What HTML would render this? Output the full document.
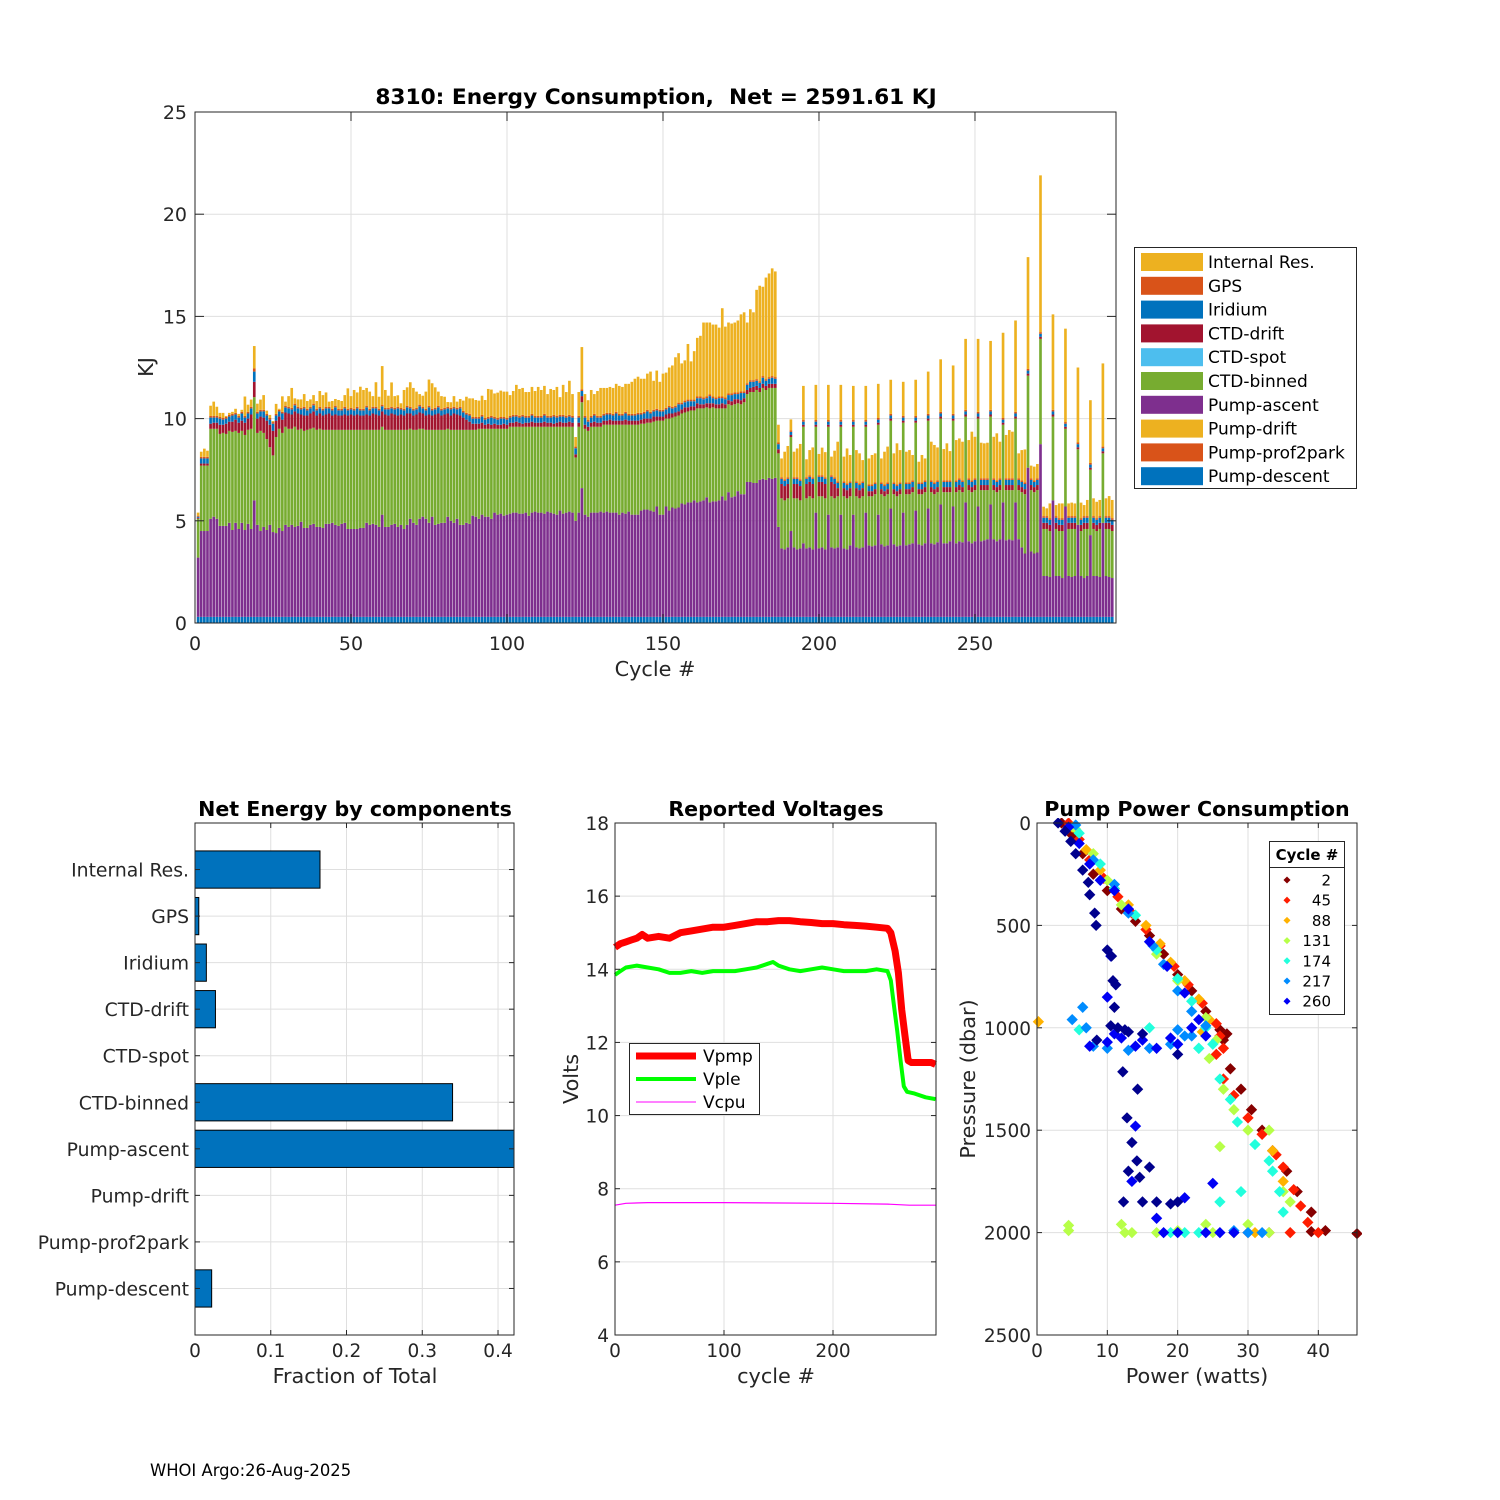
<!DOCTYPE html>
<html><head><meta charset="utf-8"><title>8310 Energy</title>
<style>
html,body{margin:0;padding:0;background:#fff;}
svg{display:block;font-family:"DejaVu Sans","Liberation Sans",sans-serif;}
</style></head>
<body>
<svg id="fig" width="1500" height="1500" viewBox="0 0 1500 1500" xmlns="http://www.w3.org/2000/svg">
<rect width="1500" height="1500" fill="#fff"/>
<g id="main"></g>
<g id="comp"></g>
<g id="volt"></g>
<g id="pump"></g>
<text x="150" y="1476" font-size="16.4">WHOI Argo:26-Aug-2025</text>
</svg>
<script>
// ===== main stacked bar data (cycles 1..294) =====
const pumpDescent=[
.3,.3,.3,.3,.3,.3,.3,.3,.3,.3,.3,.3,.3,.3,.3,.3,.3,.3,.3,.3,.3,.3,.3,.3,.3,.3,.3,.3,.3,.3,
.3,.3,.3,.3,.3,.3,.3,.3,.3,.3,.3,.3,.3,.3,.3,.3,.3,.3,.3,.3,.3,.3,.3,.3,.3,.3,.3,.3,.3,.3,
.3,.3,.3,.3,.3,.3,.3,.3,.3,.3,.3,.3,.3,.3,.3,.3,.3,.3,.3,.3,.3,.3,.3,.3,.3,.3,.3,.3,.3,.3,
.3,.3,.3,.3,.3,.3,.3,.3,.3,.3,.3,.3,.3,.3,.3,.3,.3,.3,.3,.3,.3,.3,.3,.3,.3,.3,.3,.3,.3,.3,
.3,.3,.3,.3,.3,.3,.3,.3,.3,.3,.3,.3,.3,.3,.3,.3,.3,.3,.3,.3,.3,.3,.3,.3,.3,.3,.3,.3,.3,.3,
.3,.3,.3,.3,.3,.3,.3,.3,.3,.3,.3,.3,.3,.3,.3,.3,.3,.3,.3,.3,.3,.3,.3,.3,.3,.3,.3,.3,.3,.3,
.3,.3,.3,.3,.3,.3,.3,.3,.3,.3,.3,.3,.3,.3,.3,.3,.3,.3,.3,.3,.3,.3,.3,.3,.3,.3,.3,.3,.3,.3,
.3,.3,.3,.3,.3,.3,.3,.3,.3,.3,.3,.3,.3,.3,.3,.3,.3,.3,.3,.3,.3,.3,.3,.3,.3,.3,.3,.3,.3,.3,
.3,.3,.3,.3,.3,.3,.3,.3,.3,.3,.3,.3,.3,.3,.3,.3,.3,.3,.3,.3,.3,.3,.3,.3,.3,.3,.3,.3,.3,.3,
.3,.3,.3,.3,.3,.3,.3,.3,.3,.3,.3,.3,.3,.3,.3,.3,.3,.3,.3,.3,.3,.3,.3,.3];
const pumpAscent=[
2.9,4.2,4.2,4.2,4.8,4.9,4.8,4.45,4.45,4.45,
4.6,4.25,4.6,4.3,4.6,4.25,4.55,4.3,5.7,4.5,
4.2,4.4,4.25,4.5,4.15,4.1,4.35,4.2,4.5,4.4,
4.5,4.4,4.45,4.65,4.35,4.35,4.5,4.55,4.4,4.4,
4.35,4.55,4.55,4.6,4.5,4.45,4.55,4.6,4.3,4.3,
4.3,4.3,4.35,4.35,4.6,4.5,4.55,4.5,4.4,5.0,
4.4,4.4,4.5,4.55,4.4,4.5,4.3,4.5,4.8,4.6,
4.5,4.8,4.9,4.8,4.6,4.9,4.5,4.55,4.6,4.6,
4.9,4.7,4.6,4.8,4.5,4.5,4.6,4.55,4.95,4.9,
4.8,5.0,4.9,4.9,4.8,5.1,5.0,5.05,4.95,5.0,
5.05,5.1,5.1,5.05,5.05,5.1,4.95,5.1,5.15,5.1,
5.1,5.05,5.15,5.1,5.05,5.0,5.2,5.05,5.1,5.15,
5.1,4.7,5.1,6.3,5.0,4.9,5.1,5.1,5.1,5.15,
5.1,5.15,5.1,5.1,5.1,5.0,5.1,5.05,5.15,5.0,
5.0,5.0,5.2,5.25,5.25,5.2,5.15,5.4,5.0,5.0,
5.4,5.2,5.35,5.3,5.35,5.55,5.5,5.6,5.6,5.7,
5.6,5.65,5.7,5.85,5.6,5.65,5.65,5.7,5.9,5.7,
6.1,5.85,5.9,6.15,6.0,6.0,6.6,6.6,6.55,6.55,
6.7,6.75,6.7,6.8,6.75,6.8,4.4,3.35,3.3,3.4,
4.2,3.4,3.3,3.35,3.6,3.35,3.4,3.3,5.1,3.35,
3.4,3.3,5.0,3.4,3.35,3.4,5.0,3.35,3.3,3.5,
5.0,3.4,3.35,3.4,5.1,3.5,3.45,3.5,5.0,3.55,
3.45,3.5,5.3,3.55,3.45,3.5,5.1,3.5,3.55,3.6,
5.2,3.55,3.5,3.6,5.3,3.6,3.55,3.65,5.5,3.6,
3.6,3.7,5.4,3.6,3.7,3.65,5.6,3.7,3.6,3.7,
5.4,3.7,3.75,3.8,5.5,3.8,3.7,3.8,5.6,3.75,
3.8,3.75,5.6,3.8,3.4,3.1,7.3,3.2,3.1,3.15,
8.45,2.0,2.0,1.95,5.7,2.0,2.0,1.9,5.4,2.0,
1.95,2.0,4.5,2.0,1.9,2.0,4.0,2.0,2.0,1.95,
4.6,2.0,1.95,1.9];
const ctdBinned=[
1.9,3.2,3.2,3.2,4.4,4.3,4.4,4.5,4.55,4.5,
4.5,4.8,4.5,4.7,4.5,4.65,4.6,4.9,5.05,4.5,
4.9,4.6,4.45,3.8,3.75,4.7,4.85,4.8,4.8,4.8,
4.7,4.9,4.7,4.55,4.75,4.8,4.7,4.7,4.75,4.8,
4.8,4.6,4.6,4.55,4.65,4.7,4.6,4.55,4.85,4.85,
4.85,4.85,4.8,4.8,4.55,4.65,4.6,4.65,4.75,4.3,
4.75,4.75,4.65,4.6,4.75,4.65,4.85,4.65,4.4,4.55,
4.65,4.4,4.3,4.35,4.55,4.25,4.65,4.6,4.55,4.55,
4.3,4.45,4.55,4.35,4.65,4.65,4.55,4.6,4.2,4.25,
4.4,4.2,4.3,4.3,4.4,4.1,4.2,4.15,4.25,4.2,
4.25,4.2,4.2,4.25,4.25,4.2,4.35,4.2,4.15,4.2,
4.2,4.25,4.15,4.2,4.25,4.3,4.1,4.25,4.2,4.15,
4.2,3.1,4.2,4.2,4.2,4.2,4.2,4.2,4.2,4.15,
4.3,4.25,4.3,4.3,4.3,4.4,4.3,4.35,4.25,4.4,
4.4,4.4,4.25,4.2,4.25,4.3,4.4,4.2,4.6,4.6,
4.3,4.5,4.4,4.5,4.5,4.4,4.5,4.45,4.5,4.4,
4.6,4.55,4.5,4.4,4.6,4.6,4.55,4.5,4.3,4.5,
4.3,4.5,4.5,4.3,4.4,4.5,4.3,4.4,4.45,4.55,
4.3,4.45,4.4,4.4,4.45,4.4,3.6,2.45,2.4,2.4,
4.6,2.4,2.5,2.35,5.7,2.45,2.5,2.5,4.2,2.55,
2.5,2.5,4.3,2.5,2.45,2.5,4.3,2.55,2.5,2.4,
4.3,2.5,2.45,2.5,4.2,2.4,2.45,2.5,4.4,2.45,
2.45,2.5,4.3,2.45,2.45,2.5,4.4,2.5,2.45,2.5,
4.3,2.45,2.5,2.5,4.3,2.5,2.45,2.45,4.2,2.5,
2.5,2.4,4.2,2.5,2.5,2.45,4.2,2.5,2.5,2.5,
4.3,2.5,2.45,2.4,4.3,2.4,2.4,2.4,3.8,2.45,
2.4,2.45,4.1,2.4,2.7,2.9,4.5,3.0,3.0,3.05,
5.15,2.3,2.3,2.25,4.1,2.3,2.2,2.3,3.8,2.3,
2.35,2.3,3.7,2.2,2.4,2.3,3.2,2.3,2.2,2.35,
3.4,2.3,2.35,2.3];
const ctdDrift=[
.05,.1,.1,.1,.25,.3,.3,.45,.4,.5,
.45,.5,.55,.5,.5,.6,.55,.7,.75,.7,
.7,.75,.9,1.1,1.2,.8,.6,.65,.7,.75,
.7,.75,.8,.7,.75,.7,.75,.8,.7,.75,
.7,.75,.8,.7,.75,.7,.7,.75,.7,.75,
.7,.75,.7,.7,.75,.7,.8,.75,.7,.75,
.75,.7,.8,.75,.7,.75,.7,.8,.75,.7,
.75,.8,.75,.7,.75,.7,.75,.8,.7,.75,
.75,.7,.8,.75,.7,.6,.5,.4,.3,.3,
.25,.3,.2,.25,.2,.25,.2,.2,.25,.2,
.2,.2,.25,.2,.15,.2,.2,.25,.2,.2,
.2,.25,.2,.2,.15,.2,.25,.2,.2,.25,
.2,.15,.2,.3,.2,.2,.2,.25,.2,.2,
.2,.2,.25,.2,.2,.2,.2,.25,.2,.2,
.2,.2,.2,.25,.2,.2,.25,.2,.2,.2,
.2,.25,.2,.2,.2,.2,.25,.2,.2,.2,
.25,.2,.2,.2,.25,.2,.2,.2,.25,.2,
.2,.2,.25,.2,.2,.2,.2,.2,.25,.2,
.2,.2,.2,.2,.2,.2,.2,.7,.7,.7,
.1,.7,.7,.7,.1,.7,.7,.7,.1,.7,
.7,.7,.1,.7,.7,.4,.1,.4,.4,.4,
.1,.4,.4,.4,.1,.25,.25,.25,.1,.25,
.25,.25,.1,.25,.25,.25,.1,.25,.25,.25,
.1,.25,.25,.25,.1,.25,.25,.25,.1,.25,
.25,.25,.1,.25,.25,.25,.1,.25,.25,.25,
.1,.25,.25,.25,.1,.25,.25,.25,.1,.25,
.25,.25,.1,.25,.25,.25,.1,.25,.25,.25,
.1,.3,.3,.3,.1,.3,.3,.3,.1,.3,
.3,.3,.1,.3,.3,.3,.1,.3,.3,.3,
.1,.3,.3,.3];
const iridium=[
.05,.25,.25,.25,.3,.25,.25,.3,.25,.25,
.25,.3,.25,.25,.35,.25,.25,.3,.5,.25,
.25,.3,.25,.25,.35,.25,.25,.3,.25,.25,
.25,.3,.25,.25,.35,.25,.25,.3,.25,.25,
.25,.3,.25,.25,.35,.25,.25,.3,.25,.25,
.25,.3,.25,.25,.35,.25,.25,.3,.25,.25,
.25,.3,.25,.25,.35,.25,.25,.3,.25,.25,
.25,.3,.25,.25,.35,.25,.25,.3,.25,.25,
.25,.3,.25,.25,.35,.25,.25,.3,.25,.25,
.25,.3,.25,.25,.35,.25,.25,.3,.25,.25,
.25,.3,.25,.25,.35,.25,.25,.3,.25,.25,
.25,.3,.25,.25,.35,.25,.25,.3,.25,.25,
.25,.3,.25,.25,.35,.25,.25,.3,.25,.25,
.25,.3,.25,.25,.35,.25,.25,.3,.25,.25,
.25,.3,.25,.25,.35,.25,.25,.3,.25,.25,
.25,.3,.25,.25,.35,.25,.25,.3,.25,.25,
.25,.3,.25,.25,.35,.25,.25,.3,.25,.25,
.25,.3,.25,.25,.35,.25,.25,.3,.25,.25,
.25,.3,.25,.25,.3,.25,.25,.25,.25,.25,
.15,.25,.25,.25,.15,.25,.25,.25,.15,.25,
.25,.25,.15,.25,.25,.25,.15,.25,.25,.25,
.15,.25,.25,.25,.15,.25,.25,.25,.15,.25,
.25,.25,.15,.25,.25,.25,.15,.25,.25,.25,
.15,.25,.25,.25,.15,.25,.25,.25,.15,.25,
.25,.25,.15,.25,.25,.25,.15,.25,.25,.25,
.15,.25,.25,.25,.15,.25,.25,.25,.15,.25,
.25,.25,.15,.25,.25,.25,.15,.25,.25,.25,
.15,.25,.25,.25,.15,.25,.25,.25,.15,.25,
.25,.25,.15,.25,.25,.25,.15,.25,.25,.25,
.15,.25,.25,.25];
const gps=[
.05,.08,.08,.08,.08,.08,.08,.08,.08,.08,.08,.08,.08,.08,.08,.08,.08,.08,.15,.08,.08,.08,.08,.08,.08,.08,.08,.08,.08,.08,
.08,.08,.08,.08,.08,.08,.08,.08,.08,.08,.08,.08,.08,.08,.08,.08,.08,.08,.08,.08,.08,.08,.08,.08,.08,.08,.08,.08,.08,.08,
.08,.08,.08,.08,.08,.08,.08,.08,.08,.08,.08,.08,.08,.08,.08,.08,.08,.08,.08,.08,.08,.08,.08,.08,.08,.08,.08,.08,.08,.08,
.08,.08,.08,.08,.08,.08,.08,.08,.08,.08,.08,.08,.08,.08,.08,.08,.08,.08,.08,.08,.08,.08,.08,.08,.08,.08,.08,.08,.08,.08,
.08,.08,.08,.08,.08,.08,.08,.08,.08,.08,.08,.08,.08,.08,.08,.08,.08,.08,.08,.08,.08,.08,.08,.08,.08,.08,.08,.08,.08,.08,
.08,.08,.08,.08,.08,.08,.08,.08,.08,.08,.08,.08,.08,.08,.08,.08,.08,.08,.08,.08,.08,.08,.08,.08,.08,.08,.08,.08,.08,.08,
.08,.08,.08,.08,.08,.08,.08,.08,.08,.08,.08,.08,.08,.08,.08,.08,.08,.08,.08,.08,.08,.08,.08,.08,.08,.08,.08,.08,.08,.08,
.08,.08,.08,.08,.08,.08,.08,.08,.08,.08,.08,.08,.08,.08,.08,.08,.08,.08,.08,.08,.08,.08,.08,.08,.08,.08,.08,.08,.08,.08,
.08,.08,.08,.08,.08,.08,.08,.08,.08,.08,.08,.08,.08,.08,.08,.08,.08,.08,.08,.08,.08,.08,.08,.08,.08,.08,.08,.08,.08,.08,
.08,.08,.08,.08,.08,.08,.08,.08,.08,.08,.08,.08,.08,.08,.08,.08,.08,.08,.08,.08,.08,.08,.08,.08];
const internalRes=[
0.15,0.25,0.4,0.3,0.5,0.7,0.45,0.2,0.25,0.05,
0.1,0.1,0.2,0.1,0.1,0.95,0.35,0.35,1.1,0.4,
0.5,0.72,0.16,0.15,0.05,0.49,0.05,0.76,0.2,0.52,
0.97,0.26,0.36,0.41,0.62,0.38,0.36,0.42,0.38,0.77,
0.67,0.7,0.25,0.38,0.33,0.43,0.38,0.57,1.0,0.57,
0.92,0.7,1.08,0.92,0.87,0.84,0.52,1.2,0.59,1.89,
0.87,0.59,1.19,0.57,0.56,0.22,0.92,0.9,1.2,1.02,
0.79,0.52,0.54,0.84,1.28,1.25,1.0,0.69,0.62,0.54,
0.23,0.27,0.52,0.3,0.38,0.5,0.79,0.76,0.91,0.83,
0.8,0.94,0.88,1.37,1.29,1.15,1.24,1.29,1.24,1.29,
1.02,1.17,1.47,1.32,1.32,1.17,1.17,1.32,1.22,1.42,
1.27,1.37,1.07,1.32,1.22,1.42,0.87,1.47,1.17,1.67,
1.07,0.47,1.17,2.07,1.07,0.97,1.27,0.97,1.22,1.37,
1.27,1.22,1.27,1.27,1.37,1.37,1.32,1.37,1.47,1.57,
1.72,1.77,1.67,1.62,1.77,1.97,1.42,1.87,1.37,1.77,
1.72,1.87,2.02,2.37,2.42,1.92,1.97,2.72,1.87,2.37,
2.87,2.97,3.67,3.62,3.52,3.52,3.57,3.37,4.32,3.47,
3.47,3.42,3.42,3.52,3.77,3.87,2.97,3.47,3.32,4.37,
4.67,4.37,4.97,5.07,5.27,5.17,0.87,0.92,1.35,1.53,
0.53,1.25,1.41,1.73,1.67,0.88,1.23,1.46,1.72,1.04,
1.35,1.23,1.72,0.91,1.3,1.94,1.72,1.21,1.71,1.29,
1.67,1.53,1.47,1.04,1.67,1.27,1.44,1.42,1.67,1.17,
1.6,1.75,1.67,1.42,2.01,1.58,1.67,1.5,1.58,1.24,
1.77,1.01,1.34,1.07,2.07,1.89,1.83,1.61,2.57,1.53,
1.81,1.43,2.37,1.97,1.95,1.89,3.47,1.87,2.38,2.03,
3.57,1.74,1.71,1.74,3.37,2.03,2.3,1.79,4.17,2.12,
2.36,2.28,4.47,1.22,1.48,1.61,5.47,0.62,0.67,0.7,
7.67,0.46,0.38,0.72,4.67,0.54,0.72,0.72,4.57,0.62,
0.66,0.62,3.67,0.76,0.54,0.79,3.07,0.87,0.8,0.79,
4.07,0.87,0.98,0.89];
const firstCycle=1;
const mainYTicks=[0,5,10,15,20,25];
const mainXTicks=[0,50,100,150,200,250];
const legendNames=["Internal Res.","GPS","Iridium","CTD-drift","CTD-spot","CTD-binned","Pump-ascent","Pump-drift","Pump-prof2park","Pump-descent"];

// ===== component fractions =====
const compNames=["Internal Res.","GPS","Iridium","CTD-drift","CTD-spot","CTD-binned","Pump-ascent","Pump-drift","Pump-prof2park","Pump-descent"];
const compFrac=[0.165,0.005,0.015,0.027,0,0.34,0.43,0,0,0.022];
const compXTicks=[0,0.1,0.2,0.3,0.4];

// ===== voltages =====
const vpmpCycle=[0,5,10,15,20,25,30,40,50,60,70,80,90,100,110,120,130,140,150,160,170,180,190,200,210,220,230,240,250,253,257,260,263,266,269,272,280,290,294];
const vpmpVal=[14.6,14.7,14.75,14.8,14.85,14.95,14.85,14.9,14.85,15.0,15.05,15.1,15.15,15.15,15.2,15.25,15.3,15.3,15.33,15.33,15.3,15.28,15.25,15.25,15.22,15.2,15.18,15.15,15.12,15.0,14.5,13.9,12.9,12.2,11.5,11.45,11.45,11.45,11.4];
const vpleCycle=[0,5,10,20,30,40,50,60,70,80,90,100,110,120,130,140,145,150,160,170,180,190,200,210,220,230,240,250,253,256,259,262,265,268,275,285,294];
const vpleVal=[13.85,13.95,14.05,14.1,14.05,14.0,13.9,13.9,13.95,13.9,13.95,13.95,13.95,14.0,14.05,14.15,14.2,14.1,14.0,13.95,14.0,14.05,14.0,13.95,13.95,13.95,14.0,13.95,13.7,13.0,12.3,11.5,10.8,10.65,10.6,10.5,10.45];
const vcpuCycle=[0,10,30,100,200,250,270,294];
const vcpuVal=[7.55,7.6,7.62,7.62,7.6,7.58,7.55,7.55];
const voltYTicks=[4,6,8,10,12,14,16,18];
const voltXTicks=[0,100,200];

// ===== pump power scatter =====
const pumpCycle=[
2,2,2,2,2,2,2,2,2,2,2,2,2,2,2,2,2,2,2,2,2,2,2,2,2,2,
45,45,45,45,45,45,45,45,45,45,45,45,45,45,45,45,45,45,45,45,45,45,45,45,45,45,45,45,
88,88,88,88,88,88,88,88,88,88,88,88,88,88,88,88,88,
131,131,131,131,131,131,131,131,131,131,131,131,131,131,131,131,131,131,131,131,131,131,131,131,131,131,131,131,
174,174,174,174,174,174,174,174,174,174,174,174,174,174,174,174,174,174,174,174,174,174,174,174,174,174,
217,217,217,217,217,217,217,217,217,217,217,217,217,217,217,217,217,217,217,217,217,217,217,
260,260,260,260,260,260,260,260,260,260,260,260,260,260,260,260,260,260,260,260,260,260,260,260,260,260,260,260,260,260,260,260,260,
290,290,290,290,290,290,290,290,290,290,290,290,290,290,290,290,290,290,290,290,290,290,290,290,290,290,290,290,290,290,290,290,290,290];
const pumpPower=[
3.5,5,6.5,8,10,12,14,16,18,20,22,24,26,27,26.5,27.5,29,30.5,32,33.5,35.5,37,39,41,39,45.5,
4.5,6,7.5,9.5,11.5,13.5,15.5,17.5,19.5,21.5,23.5,25.5,26,26.5,25.5,26.5,28,30,32,34,35,36.5,37.5,38.5,36,33,30,40,
5,7,9,11,13,15.5,17.5,19,21,23,24.5,23.5,0.2,33.5,35,31,28,
5.5,8,10,12,17,20,24,25.5,24.5,26.5,28,30,33,35,36,4.5,4.5,12,12.5,13.5,17,20,24,25,28,30,33,26,
6,9,11,14,17,20,22,24,25,23,26,27.5,28.5,31,33,33.5,34.5,35,21,23,19,29,26,23,16,6,
5.5,8,11,13,16.5,18,20,22,24,21,19,16,13,10,8,5,6.5,7,20,22,28,30,32,
4.5,6,7.5,9,11,13,16,18.5,21,23,22,19,15,12,10,7.5,11,14,17,20,24,17,18,20,24,26,28,13.5,21,25,14,10,10.5,
3,4,4.8,5.5,6.5,7.3,7.5,8.2,8.4,10,10.6,10.8,11.2,11,10.5,11.5,12.5,13,12.2,12.8,13.5,14.2,14.6,15,12.3,13,14.3,16,17,19,20,8.5,15,20];
const pumpPressure=[
0,60,150,250,330,420,480,550,640,740,820,920,1010,1030,1060,1200,1300,1400,1500,1600,1700,1800,1900,1990,1995,2005,
0,80,180,270,360,440,520,600,700,790,880,980,1040,1100,1130,1250,1330,1440,1520,1620,1680,1790,1870,1950,2000,2000,2000,2000,
20,130,230,320,400,500,590,680,770,860,960,1020,970,1600,1750,2000,2000,
30,150,280,400,640,770,950,1060,1150,1300,1400,1500,1500,1800,1850,1965,1990,1960,2000,2000,2000,1990,1960,2000,2000,1960,2000,1580,
50,200,320,450,620,760,870,1000,1080,1100,1250,1350,1460,1570,1650,1700,1800,1900,2000,2000,2000,1800,1850,1100,1000,1010,
10,180,300,440,600,690,820,920,990,1040,1080,1100,1110,1100,1090,960,900,1000,1010,1040,1990,2000,2000,
20,100,200,280,330,420,580,700,830,960,1000,1050,1060,1050,1070,1090,1030,1090,1100,1080,1040,1930,2000,2000,2000,2000,2000,1750,1830,1760,1480,850,650,
0,40,90,150,230,290,350,440,500,620,650,770,790,900,990,1000,1010,1020,1215,1440,1560,1650,1730,1850,1850,1700,1300,1680,1850,1860,1850,1060,1030,1130];
const pumpXTicks=[0,10,20,30,40];
const pumpYTicks=[0,500,1000,1500,2000,2500];
const pumpLegendCycles=[2,45,88,131,174,217,260];
const maxCycle=294;

// ===== helpers =====
const NS="http://www.w3.org/2000/svg";
function mk(parent,tag,attrs,text){const e=document.createElementNS(NS,tag);for(const k in attrs)e.setAttribute(k,attrs[k]);if(text!==undefined)e.textContent=text;parent.appendChild(e);return e;}
const GRID="#dfdfdf",AX="#262626";
function fmt(v){return String(v);}

// ===== MAIN CHART =====
(function(){
  const g=document.getElementById('main');
  const L=195,R=1116,T=112,B=623,XMAX=295.2,YMAX=25;
  const xS=c=>L+c*(R-L)/XMAX, yS=v=>B-v*(B-T)/YMAX;
  mainYTicks.forEach(v=>{const l=mk(g,'line',{x1:L,x2:R,y1:yS(v),y2:yS(v),stroke:GRID,'stroke-width':1});
    });
  mainXTicks.forEach(v=>{const l=mk(g,'line',{x1:xS(v),x2:xS(v),y1:T,y2:B,stroke:GRID,'stroke-width':1});
    });
  const series=[[pumpDescent,'#0072BD','pump-descent'],[pumpAscent,'#7E2F8E','pump-ascent'],[ctdBinned,'#77AC30','ctd-binned'],[ctdDrift,'#A2142F','ctd-drift'],[iridium,'#0072BD','iridium'],[gps,'#D95319','gps'],[internalRes,'#EDB120','internal-res']];
  const bw=0.85*(R-L)/XMAX;
  const bars=mk(g,'g',{});
  
  for(let i=0;i<pumpAscent.length;i++){
    const c=firstCycle+i;let cum=0;
    series.forEach(s=>{const v=s[0][i];if(!v)return;
      const y1=yS(cum+v),y0=yS(cum);
      const r=mk(bars,'rect',{x:(xS(c)-bw/2).toFixed(2),y:y1.toFixed(2),width:bw.toFixed(2),height:(y0-y1).toFixed(2),fill:s[1]});
      
      cum+=v;});
  }
  const box=mk(g,'rect',{x:L,y:T,width:R-L,height:B-T,fill:'none',stroke:AX,'stroke-width':1});
  
  mainYTicks.forEach(v=>{mk(g,'line',{x1:L,x2:L+9,y1:yS(v),y2:yS(v),stroke:AX});mk(g,'line',{x1:R-9,x2:R,y1:yS(v),y2:yS(v),stroke:AX});
    const t=mk(g,'text',{x:L-8,y:yS(v)+7,'font-size':19,'text-anchor':'end',fill:AX},fmt(v));
    });
  mainXTicks.forEach(v=>{mk(g,'line',{x1:xS(v),x2:xS(v),y1:B,y2:B-9,stroke:AX});mk(g,'line',{x1:xS(v),x2:xS(v),y1:T,y2:T+9,stroke:AX});
    const t=mk(g,'text',{x:xS(v),y:B+27,'font-size':19,'text-anchor':'middle',fill:AX},fmt(v));
    });
  const tt=mk(g,'text',{x:656,y:104,'font-size':21.7,'font-weight':'bold','text-anchor':'middle',fill:'#000'},'8310: Energy Consumption,  Net = 2591.61 KJ');
  tt.setAttribute('xml:space','preserve');tt.style.whiteSpace='pre';
  const xl=mk(g,'text',{x:655,y:676,'font-size':20.8,'text-anchor':'middle',fill:AX},'Cycle #');
  
  const yl=mk(g,'text',{x:0,y:0,'font-size':20.8,'text-anchor':'middle',fill:AX,transform:'translate(153,367) rotate(-90)'},'KJ');
  
  const lg=mk(g,'g',{});
  mk(lg,'rect',{x:1134.5,y:247.5,width:222,height:241,fill:'#fff',stroke:AX});
  const cols=['#EDB120','#D95319','#0072BD','#A2142F','#4DBEEE','#77AC30','#7E2F8E','#EDB120','#D95319','#0072BD'];
  legendNames.forEach((n,k)=>{const y=262+k*23.8;
    const e=mk(lg,'g',{});
    mk(e,'rect',{x:1141,y:y-9,width:62,height:18,fill:cols[k]});
    mk(e,'text',{x:1208,y:y+6,'font-size':17,fill:'#000'},n);});
})();

// ===== COMPONENT BAR CHART =====
(function(){
  const g=document.getElementById('comp');
  const L=195,R=514,T=823,B=1335,XMAX=0.4211;
  const xS=v=>L+v*(R-L)/XMAX, yS=i=>T+(i+1)*(B-T)/11;
  compXTicks.forEach(v=>{mk(g,'line',{x1:xS(v),x2:xS(v),y1:T,y2:B,stroke:GRID});});
  compNames.forEach((n,i)=>{mk(g,'line',{x1:L,x2:R,y1:yS(i),y2:yS(i),stroke:GRID});});
  const cl=mk(g,'g',{'clip-path':'url(#compclip)'});
  const defs=mk(document.getElementById('fig'),'defs',{});
  const cp=mk(defs,'clipPath',{id:'compclip'});mk(cp,'rect',{x:L,y:T,width:R-L,height:B-T});
  const h=0.8*(B-T)/11;
  compFrac.forEach((v,i)=>{if(!v)return;
    const r=mk(cl,'rect',{x:L,y:yS(i)-h/2,width:xS(v)-L,height:h,fill:'#0072BD',stroke:'#000','stroke-width':1});
    });
  mk(g,'rect',{x:L,y:T,width:R-L,height:B-T,fill:'none',stroke:AX});
  compNames.forEach((n,i)=>{mk(g,'line',{x1:L,x2:L+5,y1:yS(i),y2:yS(i),stroke:AX});mk(g,'line',{x1:R-5,x2:R,y1:yS(i),y2:yS(i),stroke:AX});
    const t=mk(g,'text',{x:L-6,y:yS(i)+7,'font-size':18.8,'text-anchor':'end',fill:AX},n);
    });
  compXTicks.forEach(v=>{mk(g,'line',{x1:xS(v),x2:xS(v),y1:B,y2:B-5,stroke:AX});mk(g,'line',{x1:xS(v),x2:xS(v),y1:T,y2:T+5,stroke:AX});
    const t=mk(g,'text',{x:xS(v),y:B+22,'font-size':18.5,'text-anchor':'middle',fill:AX},fmt(v));
    });
  const tt=mk(g,'text',{x:355,y:816,'font-size':20.6,'font-weight':'bold','text-anchor':'middle',fill:'#000'},'Net Energy by components');
  
  const xl=mk(g,'text',{x:355,y:1383,'font-size':20.8,'text-anchor':'middle',fill:AX},'Fraction of Total');
  
})();

// ===== VOLTAGES =====
(function(){
  const g=document.getElementById('volt');
  const L=615,R=936,T=823,B=1335,XMAX=294.5,YMIN=4,YMAX=18;
  const xS=c=>L+c*(R-L)/XMAX, yS=v=>B-(v-YMIN)*(B-T)/(YMAX-YMIN);
  voltYTicks.forEach(v=>mk(g,'line',{x1:L,x2:R,y1:yS(v),y2:yS(v),stroke:GRID}));
  voltXTicks.forEach(v=>mk(g,'line',{x1:xS(v),x2:xS(v),y1:T,y2:B,stroke:GRID}));
  function line(cs,vs,col,w,name){const p=cs.map((c,i)=>xS(c).toFixed(1)+','+yS(vs[i]).toFixed(1)).join(' ');
    const l=mk(g,'polyline',{points:p,fill:'none',stroke:col,'stroke-width':w,'stroke-linejoin':'round'});
    }
  line(vcpuCycle,vcpuVal,'#FF00FF',1.2,'vcpu-line');
  line(vpleCycle,vpleVal,'#00FF00',4,'vple-line');
  line(vpmpCycle,vpmpVal,'#FF0000',7,'vpmp-line');
  mk(g,'rect',{x:L,y:T,width:R-L,height:B-T,fill:'none',stroke:AX});
  voltYTicks.forEach(v=>{mk(g,'line',{x1:L,x2:L+5,y1:yS(v),y2:yS(v),stroke:AX});mk(g,'line',{x1:R-5,x2:R,y1:yS(v),y2:yS(v),stroke:AX});
    const t=mk(g,'text',{x:L-6,y:yS(v)+7,'font-size':18.5,'text-anchor':'end',fill:AX},fmt(v));
    });
  voltXTicks.forEach(v=>{mk(g,'line',{x1:xS(v),x2:xS(v),y1:B,y2:B-5,stroke:AX});mk(g,'line',{x1:xS(v),x2:xS(v),y1:T,y2:T+5,stroke:AX});
    const t=mk(g,'text',{x:xS(v),y:B+22,'font-size':18.5,'text-anchor':'middle',fill:AX},fmt(v));
    });
  const tt=mk(g,'text',{x:776,y:816,'font-size':20.6,'font-weight':'bold','text-anchor':'middle',fill:'#000'},'Reported Voltages');
  
  const xl=mk(g,'text',{x:776,y:1383,'font-size':20.8,'text-anchor':'middle',fill:AX},'cycle #');
  
  const yl=mk(g,'text',{x:0,y:0,'font-size':20.8,'text-anchor':'middle',fill:AX,transform:'translate(578,1079) rotate(-90)'},'Volts');
  
  const lg=mk(g,'g',{});
  mk(lg,'rect',{x:629.5,y:1043.5,width:130,height:71,fill:'#fff',stroke:AX});
  [['Vpmp','#FF0000',7],['Vple','#00FF00',4],['Vcpu','#FF00FF',1]].forEach((e,k)=>{const y=1056+k*23;
    const en=mk(lg,'g',{});
    mk(en,'line',{x1:636,x2:696,y1:y,y2:y,stroke:e[1],'stroke-width':e[2]});
    mk(en,'text',{x:703,y:y+6,'font-size':17,fill:'#000'},e[0]);});
})();

// ===== PUMP POWER =====
(function(){
  const g=document.getElementById('pump');
  const L=1037,R=1357,T=823,B=1335,XMAX=45.5,YMAX=2500;
  const xS=v=>L+v*(R-L)/XMAX, yS=p=>T+p*(B-T)/YMAX;
  function jet(c){const x=1-c/maxCycle;const cl=v=>Math.max(0,Math.min(1,v));
    const r=cl(1.5-Math.abs(4*x-3)),gg=cl(1.5-Math.abs(4*x-2)),b=cl(1.5-Math.abs(4*x-1));
    return 'rgb('+Math.round(r*255)+','+Math.round(gg*255)+','+Math.round(b*255)+')';}
  pumpYTicks.forEach(v=>mk(g,'line',{x1:L,x2:R,y1:yS(v),y2:yS(v),stroke:GRID}));
  pumpXTicks.forEach(v=>mk(g,'line',{x1:xS(v),x2:xS(v),y1:T,y2:B,stroke:GRID}));
  const cpD=mk(document.getElementById('fig'),'defs',{});
  const cp=mk(cpD,'clipPath',{id:'pumpclip'});mk(cp,'rect',{x:L-5,y:T-5,width:R-L+10,height:B-T+10});
  const pts=mk(g,'g',{'clip-path':'url(#pumpclip)'});
  
  pumpCycle.forEach((c,i)=>{const x=xS(pumpPower[i]),y=yS(pumpPressure[i]);
    const p=mk(pts,'rect',{x:(x-4).toFixed(1),y:(y-4).toFixed(1),width:8,height:8,fill:jet(c),transform:'rotate(45 '+x.toFixed(1)+' '+y.toFixed(1)+')'});
    });
  mk(g,'rect',{x:L,y:T,width:R-L,height:B-T,fill:'none',stroke:AX});
  pumpYTicks.forEach(v=>{mk(g,'line',{x1:L,x2:L+5,y1:yS(v),y2:yS(v),stroke:AX});mk(g,'line',{x1:R-5,x2:R,y1:yS(v),y2:yS(v),stroke:AX});
    const t=mk(g,'text',{x:L-6,y:yS(v)+7,'font-size':18.5,'text-anchor':'end',fill:AX},fmt(v));
    });
  pumpXTicks.forEach(v=>{mk(g,'line',{x1:xS(v),x2:xS(v),y1:B,y2:B-5,stroke:AX});mk(g,'line',{x1:xS(v),x2:xS(v),y1:T,y2:T+5,stroke:AX});
    const t=mk(g,'text',{x:xS(v),y:B+22,'font-size':18.5,'text-anchor':'middle',fill:AX},fmt(v));
    });
  const tt=mk(g,'text',{x:1197,y:816,'font-size':20.6,'font-weight':'bold','text-anchor':'middle',fill:'#000'},'Pump Power Consumption');
  
  const xl=mk(g,'text',{x:1197,y:1383,'font-size':20.8,'text-anchor':'middle',fill:AX},'Power (watts)');
  
  const yl=mk(g,'text',{x:0,y:0,'font-size':20.8,'text-anchor':'middle',fill:AX,transform:'translate(975,1079) rotate(-90)'},'Pressure (dbar)');
  
  const lg=mk(g,'g',{});
  mk(lg,'rect',{x:1269.5,y:841.5,width:75,height:173,fill:'#fff',stroke:AX});
  mk(lg,'line',{x1:1269.5,x2:1344.5,y1:867.5,y2:867.5,stroke:AX});
  mk(lg,'text',{x:1307,y:860,'font-size':15,'font-weight':'bold','text-anchor':'middle',fill:'#000'},'Cycle #');
  pumpLegendCycles.forEach((c,k)=>{const y=880+k*20.2;
    const en=mk(lg,'g',{});
    mk(en,'rect',{x:1284.5,y:y-2.5,width:5,height:5,fill:jet(c),transform:'rotate(45 1287 '+y+')'});
    mk(en,'text',{x:1331,y:y+5.5,'font-size':15,'text-anchor':'end',fill:'#000'},String(c));});
})();
</script>
</body></html>
